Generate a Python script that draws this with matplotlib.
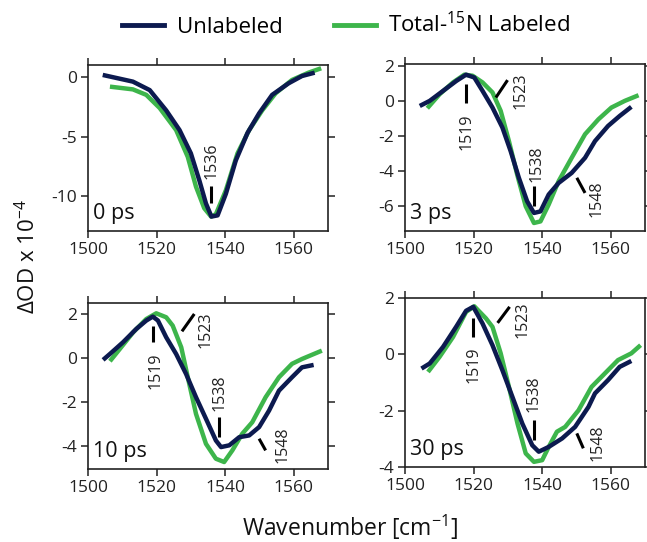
import matplotlib
matplotlib.use('Agg')
import matplotlib.pyplot as plt
from matplotlib.lines import Line2D

plt.rcParams['font.family'] = ['Open Sans', 'DejaVu Sans']
plt.rcParams['mathtext.fontset'] = 'custom'
plt.rcParams['mathtext.rm'] = 'Open Sans'
plt.rcParams['mathtext.default'] = 'regular'
plt.rcParams['axes.unicode_minus'] = False

NAVY = '#0c1a4f'
GREEN = '#3db54b'

# 0 ps
w0_unl = [1504.3, 1513.1, 1518.0, 1522.8, 1526.7, 1530.0, 1532.5, 1534.4, 1536.0, 1537.8,
          1540.2, 1543.1, 1546.5, 1549.9, 1553.7, 1558.5, 1562.4, 1566.1]
v0_unl = [0.17, -0.39, -1.1, -2.8, -4.45, -6.4, -8.7, -10.6, -11.7, -11.6,
          -9.8, -7.0, -4.7, -3.05, -1.5, -0.53, 0.08, 0.36]
w0_lab = [1506.4, 1513.1, 1517.0, 1520.9, 1525.7, 1529.1, 1531.5, 1533.9, 1535.9, 1537.3,
          1540.2, 1543.6, 1547.0, 1550.8, 1554.7, 1559.5, 1564.3, 1568.0]
v0_lab = [-0.81, -1.04, -1.5, -2.6, -4.45, -6.7, -9.2, -11.0, -11.7, -11.5,
          -9.5, -6.4, -4.45, -2.8, -1.37, -0.25, 0.36, 0.73]

# 3 ps
w3_unl = [1504.3, 1507.2, 1511.1, 1515.0, 1517.8, 1520.2, 1522.6, 1525.5, 1528.4, 1530.8,
          1533.2, 1535.6, 1537.6, 1539.5, 1541.9, 1544.8, 1548.6, 1552.5, 1555.4, 1559.2,
          1562.6, 1566.0]
v3_unl = [-0.29, 0.0, 0.57, 1.14, 1.49, 1.33, 0.57, -0.38, -1.52, -2.86,
          -4.38, -5.71, -6.38, -6.29, -5.33, -4.67, -4.1, -3.24, -2.29, -1.43,
          -0.86, -0.34]
w3_lab = [1506.5, 1510.1, 1514.0, 1517.3, 1519.7, 1522.6, 1525.5, 1527.9, 1530.3, 1532.7,
          1535.2, 1537.6, 1539.5, 1541.9, 1544.8, 1548.6, 1552.5, 1556.4, 1560.2, 1564.1,
          1568.1]
v3_lab = [-0.42, 0.38, 1.05, 1.49, 1.43, 1.05, 0.48, -0.57, -2.29, -4.19,
          -6.0, -6.95, -6.86, -5.9, -4.57, -3.24, -1.9, -1.05, -0.38, 0.0,
          0.32]

# 10 ps
w10_unl = [1504.4, 1506.4, 1510.2, 1514.1, 1517.0, 1518.9, 1520.4, 1522.8, 1525.7, 1528.6,
           1531.5, 1534.4, 1537.3, 1538.8, 1541.2, 1544.1, 1547.0, 1549.9, 1552.8, 1555.7,
           1559.5, 1562.4, 1565.8]
v10_unl = [-0.09, 0.18, 0.71, 1.32, 1.7, 1.88, 1.7, 0.94, 0.18, -0.73,
           -1.79, -2.77, -3.76, -4.06, -3.98, -3.61, -3.53, -3.15, -2.4, -1.49,
           -0.88, -0.43, -0.32]
w10_lab = [1506.4, 1509.3, 1513.2, 1517.0, 1519.9, 1522.8, 1524.7, 1527.2, 1529.1, 1531.5,
           1534.4, 1537.3, 1539.7, 1542.1, 1545.0, 1547.9, 1551.8, 1555.7, 1559.5, 1562.4,
           1568.2]
v10_lab = [-0.15, 0.41, 1.17, 1.77, 2.03, 1.85, 1.47, 0.48, -0.88, -2.55,
           -3.91, -4.59, -4.74, -4.21, -3.45, -2.93, -1.79, -0.88, -0.27, -0.05,
           0.33]

# 30 ps
w30_unl = [1504.8, 1507.2, 1511.1, 1514.9, 1517.8, 1519.9, 1522.6, 1525.5, 1528.4, 1531.3,
           1534.2, 1537.1, 1539.0, 1541.9, 1545.8, 1549.6, 1553.5, 1555.4, 1559.2, 1562.6,
           1566.0]
v30_unl = [-0.5, -0.32, 0.27, 0.98, 1.55, 1.69, 1.1, 0.33, -0.56, -1.5,
           -2.45, -3.22, -3.45, -3.28, -2.98, -2.57, -1.86, -1.38, -0.91, -0.44,
           -0.23]
w30_lab = [1506.7, 1510.1, 1514.0, 1517.8, 1520.2, 1523.6, 1525.5, 1527.9, 1530.3, 1532.8,
           1535.2, 1537.6, 1540.0, 1541.9, 1544.3, 1546.7, 1550.6, 1554.4, 1558.3, 1562.1,
           1566.0, 1568.7]
v30_lab = [-0.62, -0.08, 0.62, 1.51, 1.71, 1.28, 0.98, 0.04, -1.15, -2.45,
           -3.51, -3.81, -3.75, -3.28, -2.74, -2.57, -1.98, -1.15, -0.67, -0.2,
           0.04, 0.33]

delays = ['0 ps', '3 ps', '10 ps', '30 ps']
peak_labels = [[1536], [1519, 1523, 1538, 1548], [1519, 1523, 1538, 1548], [1519, 1523, 1538, 1548]]

# marker line (dx0, y0, dx1, y1) relative to the peak, then text (dx, y)
marks = [
    [(0.0, -9.1, 0.0, -10.6, 0.0, -7.0)],
    [(-1.2, 0.95, -1.2, -0.1, -1.2, -1.76), (3.5, 0.19, 6.9, 1.18, 10.7, 0.6),
     (-0.4, -4.86, -0.4, -6.0, 0.5, -3.6), (2.1, -4.38, 4.5, -5.24, 7.9, -5.57)],
    [(-0.1, 1.47, -0.1, 0.71, 0.7, -0.58), (4.4, 1.21, 8.0, 2.0, 11.4, 1.28),
     (0.3, -2.7, 0.3, -3.6, 0.5, -1.6), (1.9, -3.68, 3.8, -4.21, 8.6, -3.95)],
    [(0.9, 1.28, 0.9, 0.62, 1.0, -0.35), (4.0, 1.12, 7.5, 1.69, 11.2, 1.24),
     (-0.4, -2.33, -0.4, -3.04, -0.4, -1.4), (2.1, -2.8, 4.0, -3.33, 8.2, -3.13)],
]

panels = [(w0_unl, v0_unl, w0_lab, v0_lab),
          (w3_unl, v3_unl, w3_lab, v3_lab),
          (w10_unl, v10_unl, w10_lab, v10_lab),
          (w30_unl, v30_unl, w30_lab, v30_lab)]

rects = [[0.136, 0.574, 0.371, 0.306], [0.626, 0.574, 0.371, 0.308],
         [0.136, 0.135, 0.371, 0.306], [0.626, 0.138, 0.371, 0.312]]
ylims = [(-12.9, 1.0), (-7.4, 2.1), (-5.05, 2.5), (-4.0, 2.0)]
yticks = [[-10, -5, 0], [-6, -4, -2, 0, 2], [-4, -2, 0, 2], [-4, -2, 0, 2]]

fig = plt.figure(figsize=(6.47, 5.42), dpi=100)

for i in range(4):
    ax = fig.add_axes(rects[i])
    wu, vu, wl, vl = panels[i]
    ax.plot(wl, vl, color=GREEN, lw=3.2, solid_capstyle='butt',
            solid_joinstyle='round', zorder=2)
    ax.plot(wu, vu, color=NAVY, lw=3.2, solid_capstyle='butt',
            solid_joinstyle='round', zorder=3)
    ax.set_xlim(1500, 1570)
    ax.set_ylim(*ylims[i])
    ax.set_xticks([1500, 1520, 1540, 1560])
    ax.set_yticks(yticks[i])
    ax.tick_params(direction='out', length=5, width=1.1, labelsize=12.5, pad=3,
                   top=True, right=True, colors='#222222')
    for s in ax.spines.values():
        s.set_linewidth(1.2)
        s.set_color('#222222')
    ax.text(0.02, 0.04, delays[i], transform=ax.transAxes, fontsize=15.5,
            ha='left', va='bottom', color='#111111')
    for pk, m in zip(peak_labels[i], marks[i]):
        dx0, y0, dx1, y1, tdx, ty = m
        ax.plot([pk + dx0, pk + dx1], [y0, y1], color='black', lw=2.2,
                solid_capstyle='butt', zorder=4)
        ax.text(pk + tdx, ty, str(pk), rotation=90, ha='center', va='center',
                fontsize=11.5, color='#222222', zorder=5)

handles = [Line2D([], [], color=NAVY, lw=3.5),
           Line2D([], [], color=GREEN, lw=3.5)]
fig.legend(handles, ['Unlabeled', 'Total-$^{15}$N Labeled'], loc='center',
           bbox_to_anchor=(346 / 647, 0.954), ncol=2, frameon=False,
           fontsize=16, handlelength=1.9, handletextpad=0.55, columnspacing=2.3,
           borderpad=0)

fig.text(0.541, 0.027, 'Wavenumber [cm$^{-1}$]', ha='center', va='center',
         fontsize=16.5, color='#111111')
fig.text(0.043, 0.527, 'ΔOD x 10$^{-4}$', rotation=90, ha='center', va='center',
         fontsize=16, color='#111111')

plt.savefig('out.png', dpi=100)
